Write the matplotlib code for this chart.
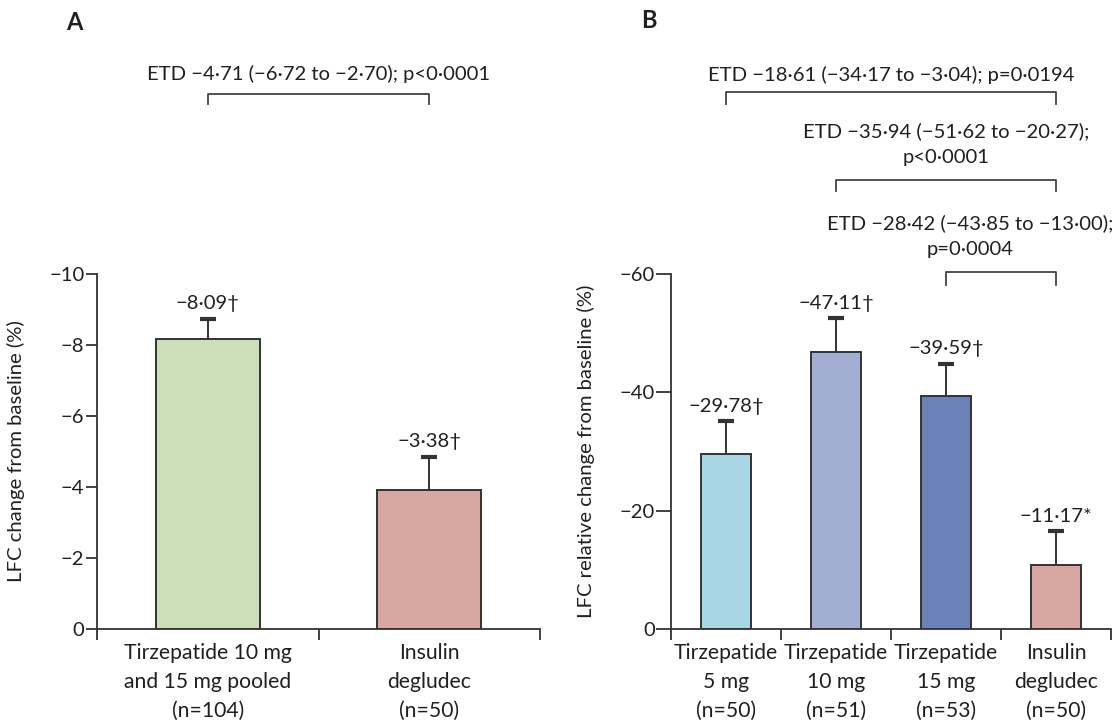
import numpy as np
import matplotlib
matplotlib.use("Agg")
import matplotlib.pyplot as plt
from matplotlib.transforms import blended_transform_factory

plt.rcParams["font.family"] = ["Lato", "DejaVu Sans"]
plt.rcParams["font.size"] = 14.6

INK = "#231f20"
EDGE = "#333333"
W, H = 1114, 727

# panel A data
a_groups = ["Tirzepatide 10 mg\nand 15 mg pooled\n(n=104)", "Insulin\ndegludec\n(n=50)"]
a_means = [-8.16, -3.92]
a_err = [0.58, 0.92]
a_labels = ["−8·09†", "−3·38†"]
a_colors = ["#cddfb8", "#d8a7a2"]
a_ticks = [0, -2, -4, -6, -8, -10]
a_etd = "ETD −4·71 (−6·72 to −2·70); p<0·0001"

# panel B data
b_groups = ["Tirzepatide\n5 mg\n(n=50)", "Tirzepatide\n10 mg\n(n=51)",
            "Tirzepatide\n15 mg\n(n=53)", "Insulin\ndegludec\n(n=50)"]
b_means = [-29.5, -46.9, -39.3, -10.9]
b_err = [5.6, 5.6, 5.5, 5.6]
b_labels = ["−29·78†", "−47·11†", "−39·59†", "−11·17*"]
b_colors = ["#a8d6e5", "#a3aed3", "#6a82b7", "#d8a7a2"]
b_ticks = [0, -20, -40, -60]
b_etd = ["ETD −18·61 (−34·17 to −3·04); p=0·0194",
         "ETD −35·94 (−51·62 to −20·27);\np<0·0001",
         "ETD −28·42 (−43·85 to −13·00);\np=0·0004"]


def fy(px):
    return 1 - px / H


def draw_panel(ax, groups, means, err, labels, colors, ticks, width, ticklen):
    x = np.arange(len(groups))
    ax.bar(x, means, width=width, color=colors, edgecolor=EDGE, linewidth=1.4, zorder=2)
    tops = [m - e for m, e in zip(means, err)]
    ax.vlines(x, means, tops, color=EDGE, lw=1.4, zorder=1)
    ax.plot(x, tops, ls="none", marker="_", ms=12, mew=3, color=EDGE, zorder=3)
    for xi, t, lab in zip(x, tops, labels):
        ax.annotate(lab, (xi, t), xytext=(0, 7), textcoords="offset points",
                    ha="center", va="baseline", color=INK)

    ax.set_xlim(-0.5, len(groups) - 0.5)
    ax.set_ylim(0, ticks[-1])
    ax.spines[["top", "right"]].set_visible(False)
    for s in ["left", "bottom"]:
        ax.spines[s].set_color(EDGE)
        ax.spines[s].set_linewidth(1.3)

    ax.set_yticks(ticks)
    ax.set_yticklabels([str(t).replace("-", "−") for t in ticks])
    ax.tick_params(axis="y", direction="out", length=ticklen, width=1.3,
                   color=EDGE, pad=1, labelcolor=INK)

    ax.set_xticks(np.arange(len(groups) + 1) - 0.5)
    ax.set_xticklabels([])
    ax.set_xticks(x, minor=True)
    ax.set_xticklabels(groups, minor=True, linespacing=1.55, fontsize=15.2)
    ax.tick_params(axis="x", which="major", direction="out", length=8, width=1.3, color=EDGE)
    ax.tick_params(axis="x", which="minor", length=0, pad=10, labelcolor=INK)


def bracket(fig, ax, x0, x1, ytop, ydrop):
    tr = blended_transform_factory(ax.transData, fig.transFigure)
    ax.plot([x0, x0, x1, x1], [fy(ydrop), fy(ytop), fy(ytop), fy(ydrop)],
            color="#444444", lw=1.3, transform=tr, clip_on=False)


fig = plt.figure(figsize=(W / 100, H / 100), dpi=100)

axA = fig.add_axes([97 / W, fy(629), 443 / W, 355 / H])
draw_panel(axA, a_groups, a_means, a_err, a_labels, a_colors, a_ticks, 0.47, 8)
axA.set_ylabel("LFC change from baseline (%)", color=INK)
axA.yaxis.set_label_coords((25 - 97) / 443, 0.5)

axB = fig.add_axes([671 / W, fy(629), 440 / W, 355 / H])
draw_panel(axB, b_groups, b_means, b_err, b_labels, b_colors, b_ticks, 0.45, 10.5)
axB.set_ylabel("LFC relative change from baseline (%)", color=INK)
axB.yaxis.set_label_coords((595 - 671) / 440, 0.5)

# panel letters
fig.text(66 / W, fy(22), "A", fontsize=17, fontweight="bold", va="center", color=INK)
fig.text(641 / W, fy(20), "B", fontsize=17, fontweight="bold", va="center", color=INK)

# ETD annotations
trA = blended_transform_factory(axA.transData, fig.transFigure)
axA.text(0.5, fy(74), a_etd, ha="center", va="center", transform=trA, color=INK)
bracket(fig, axA, 0, 1, 94, 104)

trB = blended_transform_factory(axB.transData, fig.transFigure)
axB.text(1.5, fy(75), b_etd[0], ha="center", va="center", transform=trB, color=INK)
bracket(fig, axB, 0, 3, 92, 104)
axB.text(2.0, fy(144), b_etd[1], ha="center", va="center", transform=trB,
         linespacing=1.6, color=INK)
bracket(fig, axB, 1, 3, 180, 191)
axB.text(2.22, fy(236), b_etd[2], ha="center", va="center", transform=trB,
         linespacing=1.6, color=INK)
bracket(fig, axB, 2, 3, 272, 285)

fig.savefig("out.png", dpi=100)
